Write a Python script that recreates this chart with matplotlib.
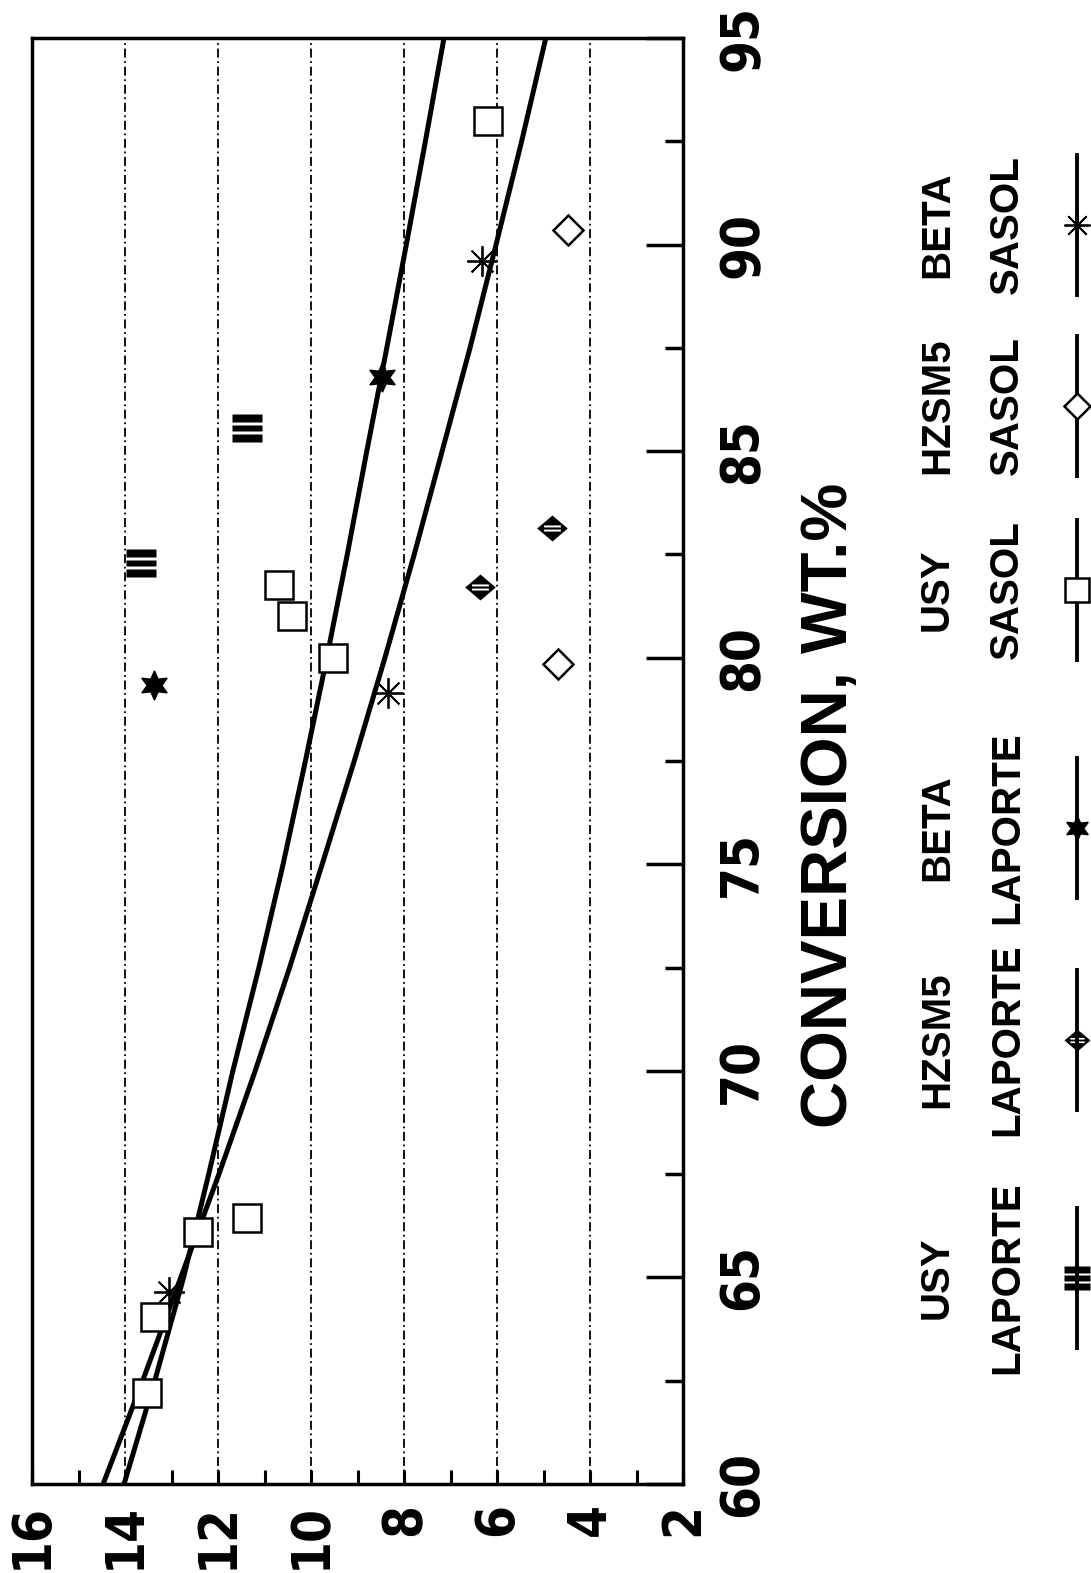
import numpy as np
import matplotlib
matplotlib.use('Agg')
import matplotlib.pyplot as plt
from matplotlib.path import Path

# 데이터 (전환율 wt.%, 세로값) - 그림을 90도 돌려 놓은 형태로 그린다
usy_laporte_conv = [82.3, 85.55]
usy_laporte_val = [13.66, 11.38]
hzsm5_laporte_conv = [81.7, 83.15]
hzsm5_laporte_val = [6.37, 4.82]
beta_laporte_conv = [79.35, 86.8]
beta_laporte_val = [13.37, 8.48]
usy_sasol_conv = [62.2, 64.05, 66.1, 66.45, 80.0, 81.0, 81.75, 93.0]
usy_sasol_val = [13.52, 13.35, 12.42, 11.38, 9.53, 10.41, 10.69, 6.2]
hzsm5_sasol_conv = [79.85, 90.35]
hzsm5_sasol_val = [4.69, 4.48]
beta_sasol_conv = [64.65, 79.15, 89.6]
beta_sasol_val = [13.06, 8.34, 6.33]

# 두 개의 추세선
fit_conv = [60, 62.5, 65, 67.5, 70, 72.5, 75, 77.5, 80, 82.5, 85, 87.5, 90, 92.5, 95]
fit_a = [14.02, 13.36, 12.74, 12.2, 11.68, 11.12, 10.6, 10.12, 9.66, 9.22, 8.8, 8.37, 7.95, 7.54, 7.14]
fit_b = [14.47, 13.62, 12.8, 11.98, 11.2, 10.46, 9.76, 9.07, 8.41, 7.78, 7.18, 6.58, 6.02, 5.47, 4.95]

val_ticks = [2, 4, 6, 8, 10, 12, 14, 16]
conv_ticks = [60, 65, 70, 75, 80, 85, 90, 95]
legend_top = ['USY', 'HZSM5', 'BETA', 'USY', 'HZSM5', 'BETA']
legend_bottom = ['LAPORTE', 'LAPORTE', 'LAPORTE', 'SASOL', 'SASOL', 'SASOL']


def bars_marker():
    verts, codes = [], []
    for y0, y1 in [(-0.5, -0.2), (-0.12, 0.12), (0.2, 0.5)]:
        verts += [(-0.55, y0), (0.55, y0), (0.55, y1), (-0.55, y1), (-0.55, y0)]
        codes += [Path.MOVETO, Path.LINETO, Path.LINETO, Path.LINETO, Path.CLOSEPOLY]
    return Path(verts, codes)


def slot_diamond():
    verts = [(-1, 0), (0, -0.85), (1, 0), (0, 0.85), (-1, 0)]
    codes = [Path.MOVETO, Path.LINETO, Path.LINETO, Path.LINETO, Path.CLOSEPOLY]
    for y0, y1 in [(0.07, 0.2), (-0.2, -0.07)]:
        verts += [(-0.55, y0), (-0.55, y1), (0.55, y1), (0.55, y0), (-0.55, y0)]
        codes += [Path.MOVETO, Path.LINETO, Path.LINETO, Path.LINETO, Path.CLOSEPOLY]
    return Path(verts, codes)


styles = [
    dict(marker=bars_marker(), ms=22, mfc='black', mec='none'),
    dict(marker=slot_diamond(), ms=22, mfc='black', mec='none'),
    dict(marker=(6, 1, 0), ms=21, mfc='black', mec='black'),
    dict(marker='s', ms=20, mfc='white', mec='black', mew=1.8),
    dict(marker='D', ms=15, mfc='white', mec='black', mew=1.8),
    dict(marker=(8, 2, 0), ms=22, mfc='none', mec='black', mew=1.3),
]
series = [
    (usy_laporte_val, usy_laporte_conv),
    (hzsm5_laporte_val, hzsm5_laporte_conv),
    (beta_laporte_val, beta_laporte_conv),
    (usy_sasol_val, usy_sasol_conv),
    (hzsm5_sasol_val, hzsm5_sasol_conv),
    (beta_sasol_val, beta_sasol_conv),
]

W, H = 1091, 1573
fig = plt.figure(figsize=(W / 100, H / 100), dpi=100)
ax = fig.add_axes([32 / W, 1 - 1484 / H, (683 - 32) / W, (1484 - 38) / H])

ax.plot(fit_a, fit_conv, color='black', lw=3.6, zorder=3)
ax.plot(fit_b, fit_conv, color='black', lw=3.6, zorder=3)
for (v, c), st in zip(series, styles):
    ax.plot(v, c, linestyle='none', zorder=4, **st)

ax.set_xlim(16, 2)
ax.set_ylim(60, 95)
ax.set_xticks(val_ticks)
ax.set_xticks(np.arange(3, 16, 2), minor=True)
ax.set_yticks(conv_ticks)
ax.set_yticks(np.arange(62.5, 95, 5), minor=True)
ax.yaxis.tick_right()
ax.grid(axis='x', which='major', color='black', lw=1.3, linestyle=(0, (5, 2, 1, 2)))

tick_font = dict(family=['DejaVu Sans'], stretch='condensed', fontsize=38, weight='bold')
ax.set_xticklabels([str(t) for t in val_ticks], rotation=90, **tick_font)
ax.set_yticklabels([str(t) for t in conv_ticks], rotation=90, **tick_font)
for lbl in ax.get_yticklabels():
    lbl.set_va('center')
ax.tick_params(axis='x', which='both', direction='in', length=10, width=2.2, pad=14)
ax.tick_params(axis='y', which='major', direction='in', length=27, width=2.5, pad=24)
ax.tick_params(axis='y', which='minor', direction='in', length=13, width=2.5)
for sp in ax.spines.values():
    sp.set_linewidth(2.5)

# 축 제목과 범례는 픽셀 좌표의 덮개 축에 그린다
ov = fig.add_axes([0, 0, 1, 1])
ov.set_xlim(0, W)
ov.set_ylim(H, 0)
ov.axis('off')
ov.text(830, 805, 'CONVERSION, WT.%', rotation=90, ha='center', va='center',
        fontsize=47, weight='bold', family=['Liberation Sans', 'DejaVu Sans'])

leg_y = [1278, 1040, 828, 590, 406, 225]
for yc, top, bot, st in zip(leg_y, legend_top, legend_bottom, styles):
    ov.text(937, yc, top, rotation=90, ha='center', va='center', fontsize=29,
            weight='bold', family=['Liberation Sans', 'DejaVu Sans'])
    ov.text(1007, yc, bot, rotation=90, ha='center', va='center', fontsize=29,
            weight='bold', family=['Liberation Sans', 'DejaVu Sans'])
    ov.plot([1077, 1077], [yc - 70, yc + 70], color='black', lw=2.8)
    st2 = dict(st)
    st2['ms'] = st['ms'] * 0.85
    ov.plot([1077], [yc], linestyle='none', **st2)

fig.savefig('out.png', dpi=100)
